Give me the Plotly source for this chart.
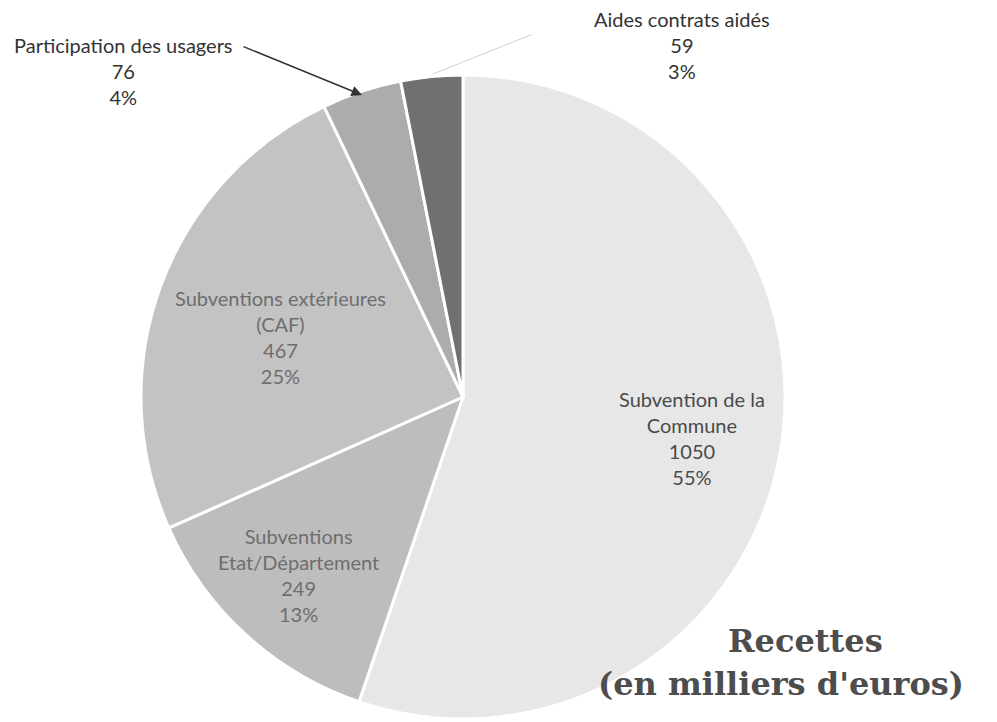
import plotly.graph_objects as go

labels = ["Subvention de la Commune", "Subventions Etat/Département",
          "Subventions extérieures (CAF)", "Participation des usagers",
          "Aides contrats aidés"]
label_lines = ["Subvention de la<br>Commune", "Subventions<br>Etat/Département",
               "Subventions extérieures<br>(CAF)", "Participation des usagers",
               "Aides contrats aidés"]
values = [1050, 249, 467, 76, 59]
colors = ["#e7e7e7", "#bdbdbd", "#c3c3c3", "#acacac", "#707070"]
text_colors = ["#4a4a4a", "#6e6e6e", "#6e6e6e", "#333333", "#333333"]
title_lines = ["Recettes", "(en milliers d'euros)"]

W, H = 997, 722
OFF = 8  # page body margin offset
# label block centres in page pixels (x, y from top)
label_pos = [(692, 438), (298, 575), (280, 337), (123, 71), (682, 45)]
title_pos = [(805, 641), (781, 684)]

total = sum(values)
cx, cy, r = 463 - OFF, 397 - OFF, 322


def px(x):
    return x / W


def py(y):
    return 1 - y / H


fig = go.Figure()
fig.add_trace(go.Pie(
    labels=labels, values=values, sort=False, direction="clockwise", rotation=0,
    marker=dict(colors=colors, line=dict(color="white", width=3)),
    textinfo="none", hoverinfo="label+value+percent",
    domain=dict(x=[(cx - r) / W, (cx + r) / W], y=[(H - cy - r) / H, (H - cy + r) / H]),
))

annotations = []
for name, v, col, (lx, ly) in zip(label_lines, values, text_colors, label_pos):
    pct = round(v / total * 100)
    annotations.append(dict(
        x=px(lx - OFF), y=py(ly - OFF), xref="paper", yref="paper",
        text=f"{name}<br>{v}<br>{pct}%", showarrow=False, align="center",
        xanchor="center", yanchor="middle",
        font=dict(family="Lato", size=20, color=col),
    ))

# leader lines
annotations.append(dict(
    x=px(362 - OFF), y=py(95 - OFF), xref="paper", yref="paper", text="",
    showarrow=True, ax=-120, ay=-49, arrowhead=2, arrowsize=1.4,
    arrowwidth=1.5, arrowcolor="#333333",
))
annotations.append(dict(
    x=px(433 - OFF), y=py(74 - OFF), xref="paper", yref="paper", text="",
    showarrow=True, ax=100, ay=-40, arrowhead=0,
    arrowwidth=1, arrowcolor="#d0d0d0",
))

# title
for t, (tx, ty) in zip(title_lines, title_pos):
    annotations.append(dict(
        x=px(tx - OFF), y=py(ty - OFF), xref="paper", yref="paper",
        text=f"<b>{t}</b>", showarrow=False,
        align="center", xanchor="center", yanchor="middle",
        font=dict(family="DejaVu Serif", size=32, color="#4d4d4d"),
    ))

fig.update_layout(
    width=W, height=H, margin=dict(l=0, r=0, t=0, b=0),
    paper_bgcolor="white", plot_bgcolor="white", showlegend=False,
    annotations=annotations,
)
fig.write_html("out.html")
